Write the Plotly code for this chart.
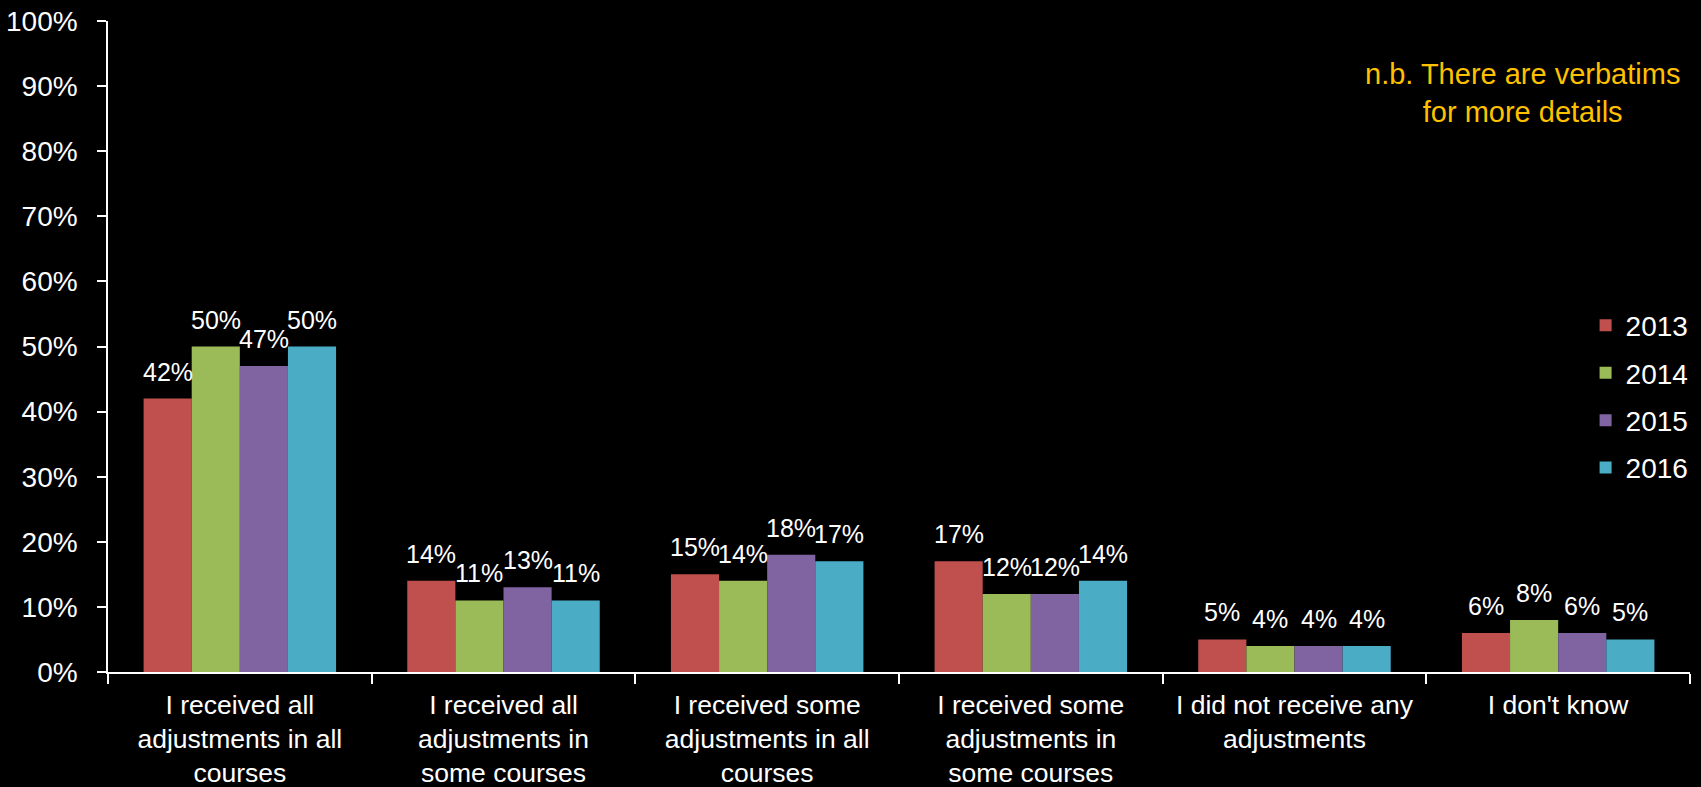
import plotly.graph_objects as go

categories = [
    "I received all<br>adjustments in all<br>courses",
    "I received all<br>adjustments in<br>some courses",
    "I received some<br>adjustments in all<br>courses",
    "I received some<br>adjustments in<br>some courses",
    "I did not receive any<br>adjustments",
    "I don't know",
]
years = ["2013", "2014", "2015", "2016"]
v2013 = [42, 14, 15, 17, 5, 6]
v2014 = [50, 11, 14, 12, 4, 8]
v2015 = [47, 13, 18, 12, 4, 6]
v2016 = [50, 11, 17, 14, 4, 5]
series = [v2013, v2014, v2015, v2016]
colors = ["#C0504D", "#9BBB59", "#8064A2", "#4BACC6"]

FONT = "Liberation Sans, Arial, sans-serif"
bargap = 0.27

fig = go.Figure()
for name, vals, col in zip(years, series, colors):
    fig.add_trace(go.Bar(
        x=categories, y=vals, name=name, marker=dict(color=col, line=dict(width=0)),
        legendgroup=name,
    ))

# data labels computed from data + the bar scale
n = len(series)
w = (1 - bargap) / n
for j, vals in enumerate(series):
    for i, v in enumerate(vals):
        fig.add_annotation(
            x=i + (j - (n - 1) / 2) * w, y=v, xref="x", yref="y",
            text=f"{v}%", showarrow=False, yanchor="bottom", yshift=11,
            font=dict(family=FONT, size=25, color="white"),
        )

fig.add_annotation(
    x=0.8944, y=0.889, xref="paper", yref="paper",
    text="n.b. There are verbatims<br>for more details", showarrow=False,
    xanchor="center", yanchor="middle",
    font=dict(family=FONT, size=29, color="#FFC000"),
)

fig.update_layout(
    width=1701, height=787,
    paper_bgcolor="black", plot_bgcolor="black",
    margin=dict(l=108, r=11, t=21, b=115, autoexpand=False),
    barmode="group", bargap=bargap, bargroupgap=0,
    font=dict(family=FONT, color="white"),
    legend=dict(
        x=0.934, y=0.423, xanchor="left", yanchor="middle",
        font=dict(family=FONT, size=28, color="white"),
        bgcolor="rgba(0,0,0,0)", tracegroupgap=8,
    ),
    showlegend=True,
)
fig.update_xaxes(
    showline=True, linecolor="white", linewidth=1.5,
    ticks="outside", tickson="boundaries", ticklen=10, tickcolor="white", tickwidth=1.5,
    tickfont=dict(family=FONT, size=26.5, color="white"),
    showgrid=False, zeroline=False, tickangle=0,
    automargin=False, ticklabelstandoff=8,
)
fig.update_yaxes(
    range=[0, 100], dtick=10, ticksuffix="%",
    showline=True, linecolor="white", linewidth=1.5,
    ticks="outside", ticklen=9, tickcolor="white", tickwidth=1.5,
    tickfont=dict(family=FONT, size=28, color="white"),
    showgrid=False, zeroline=False, ticklabelstandoff=14, automargin=False,
)

fig.write_html("out.html")
